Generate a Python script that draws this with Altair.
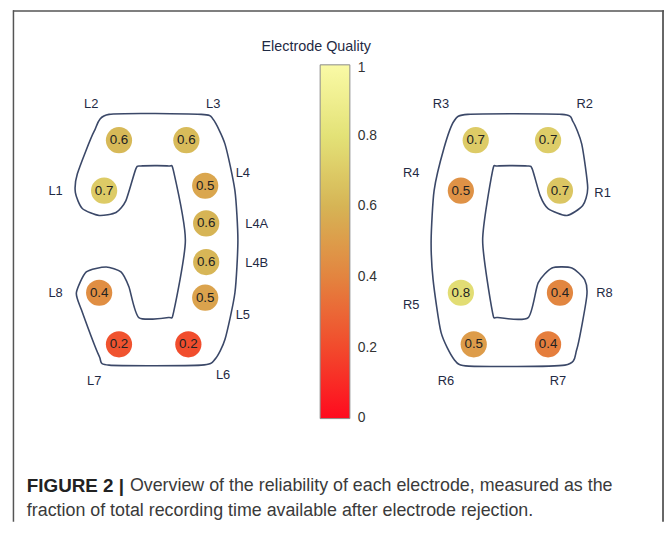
import altair as alt
import pandas as pd

# ---------------- data ----------------
left_names = ["L1", "L2", "L3", "L4", "L4A", "L4B", "L5", "L6", "L7", "L8"]
left_quality = [0.70, 0.62, 0.63, 0.54, 0.60, 0.61, 0.53, 0.21, 0.23, 0.44]
left_x = [105, 120, 188, 207, 208, 208, 207, 190, 120, 100]
left_y = [190, 139, 139, 185, 223, 262, 298, 345, 345, 293]
left_label_x = [56, 92, 215, 245, 259, 259, 245, 225, 95, 56]
left_label_y = [190, 103, 103, 172, 224, 263, 315, 376, 382, 293]

right_names = ["R1", "R2", "R3", "R4", "R5", "R6", "R7", "R8"]
right_quality = [0.68, 0.71, 0.70, 0.46, 0.78, 0.50, 0.38, 0.41]
right_x = [565, 553, 480, 465, 465, 478, 553, 565]
right_y = [190, 139, 139, 190, 293, 345, 345, 293]
right_label_x = [608, 590, 445, 415, 415, 450, 563, 610]
right_label_y = [192, 103, 103, 172, 305, 382, 382, 293]

# earpiece outlines (layout units)
left_outline_x = [110, 95, 78, 76, 83, 100, 117, 127, 137, 142, 170, 175, 187, 175, 170, 140, 130,
                  122, 107, 87, 77, 82, 100, 110, 203, 217, 227, 237, 240, 237, 227, 215, 203]
left_outline_y = [113, 130, 173, 192, 208, 215, 212, 200, 168, 165, 165, 170, 240, 313, 318, 318, 287,
                  272, 267, 272, 293, 310, 357, 366, 366, 360, 340, 293, 240, 190, 143, 118, 113]
right_outline_x = [472, 567, 578, 587, 593, 588, 572, 553, 545, 537, 532, 502, 497, 487, 497, 502, 533,
                   543, 557, 577, 590, 592, 582, 570, 473, 458, 445, 437, 435, 438, 448, 458]
right_outline_y = [113, 113, 120, 143, 187, 205, 215, 208, 195, 168, 165, 165, 170, 240, 313, 318, 318,
                   283, 268, 268, 280, 297, 350, 366, 367, 360, 333, 280, 240, 190, 147, 120]

cbar_stops = [0, 0.2, 0.4, 0.6, 0.8, 1]
cbar_colors = ["#ff0a1e", "#f24a2c", "#e3843f", "#d6b455", "#e3e277", "#fafaa6"]
cbar_label_values = [0.002, 0.2, 0.4, 0.6, 0.8, 0.99]

cbar_title = "Electrode Quality"
caption_bold = "FIGURE 2 |"
caption_line1 = "Overview of the reliability of each electrode, measured as the"
caption_line2 = "fraction of total recording time available after electrode rejection."

# ---------------- tables ----------------
electrodes = pd.DataFrame({
    "name": left_names + right_names,
    "quality": left_quality + right_quality,
    "x": left_x + right_x,
    "y": left_y + right_y,
    "lx": left_label_x + right_label_x,
    "ly": left_label_y + right_label_y,
})

outline = pd.DataFrame({
    "x": left_outline_x + right_outline_x,
    "y": left_outline_y + right_outline_y,
    "side": ["L"] * len(left_outline_x) + ["R"] * len(right_outline_x),
    "i": list(range(len(left_outline_x))) + list(range(len(right_outline_x))),
})

W, H = 662, 516
xs = alt.Scale(domain=[8, 8 + W], nice=False, zero=False)
ys = alt.Scale(domain=[8, 8 + H], nice=False, zero=False, reverse=True)
LBL = "#1f2a44"
FONT = "Liberation Sans"

color = alt.Color(
    "quality:Q",
    scale=alt.Scale(domain=cbar_stops, range=cbar_colors, interpolate="rgb"),
    legend=alt.Legend(
        orient="none", legendX=315, legendY=55, direction="vertical",
        gradientLength=357, gradientThickness=30,
        gradientStrokeColor="#8a8a8a", gradientStrokeWidth=1,
        values=cbar_label_values,
        labelExpr="format(round(datum.value * 10) / 10, '~g')",
        labelFontSize=14, labelFont=FONT,
        labelColor="#333333", labelOffset=8, labelBaseline="middle",
        labelOverlap=False, title=None,
    ),
)

outlines = alt.Chart(outline).mark_line(
    interpolate="cardinal-closed", tension=0.35, color="#3b4868", strokeWidth=1.6
).encode(
    x=alt.X("x:Q", scale=xs, axis=None),
    y=alt.Y("y:Q", scale=ys, axis=None),
    detail="side:N",
    order="i:Q",
)

dots = alt.Chart(electrodes).mark_circle(size=700, opacity=1).encode(
    x=alt.X("x:Q", scale=xs, axis=None),
    y=alt.Y("y:Q", scale=ys, axis=None),
    color=color,
)

values = alt.Chart(electrodes).mark_text(
    fontSize=13.5, font=FONT, color="#222222", align="center", baseline="middle"
).encode(
    x=alt.X("x:Q", scale=xs, axis=None),
    y=alt.Y("y:Q", scale=ys, axis=None),
    text=alt.Text("quality:Q", format=".1f"),
)

names = alt.Chart(electrodes).mark_text(
    fontSize=13, font=FONT, color=LBL, align="center", baseline="middle"
).encode(
    x=alt.X("lx:Q", scale=xs, axis=None),
    y=alt.Y("ly:Q", scale=ys, axis=None),
    text="name:N",
)

texts = pd.DataFrame({
    "t": [cbar_title],
    "x": [319],
    "y": [45],
})
title = alt.Chart(texts).mark_text(
    fontSize=14.5, font=FONT, color=LBL, align="center", baseline="middle"
).encode(
    x=alt.X("x:Q", scale=xs, axis=None),
    y=alt.Y("y:Q", scale=ys, axis=None),
    text="t:N",
)

cap_b = pd.DataFrame({"t": [caption_bold], "x": [27], "y": [488]})
cap_r = pd.DataFrame({"t": [caption_line1, caption_line2], "x": [131, 27], "y": [488, 513]})

caption_bold_layer = alt.Chart(cap_b).mark_text(
    fontSize=19, font=FONT, fontWeight="bold", color="#222222", align="left", baseline="middle"
).encode(
    x=alt.X("x:Q", scale=xs, axis=None),
    y=alt.Y("y:Q", scale=ys, axis=None),
    text="t:N",
)
caption_layer = alt.Chart(cap_r).mark_text(
    fontSize=18, font=FONT, color="#3a3a3a", align="left", baseline="middle"
).encode(
    x=alt.X("x:Q", scale=xs, axis=None),
    y=alt.Y("y:Q", scale=ys, axis=None),
    text="t:N",
)

frame_left = alt.Chart().mark_rule(color="#555555", strokeWidth=1.5).encode(
    x=alt.value(5.5), y=alt.value(0), y2=alt.value(H))
frame_right = alt.Chart().mark_rule(color="#666666", strokeWidth=2).encode(
    x=alt.value(661), y=alt.value(0), y2=alt.value(H))
frame_top = alt.Chart().mark_rule(color="#555555", strokeWidth=1.5).encode(
    x=alt.value(5), x2=alt.value(662), y=alt.value(0.75))

chart = alt.layer(
    frame_left, frame_right, frame_top,
    outlines, dots, values, names, title, caption_bold_layer, caption_layer,
).properties(
    width=W, height=H, autosize=alt.AutoSizeParams(type="none"), padding=0,
    background="white",
).configure_view(stroke=None)

chart.save("out.html", embed_options={"renderer": "svg", "actions": False})
